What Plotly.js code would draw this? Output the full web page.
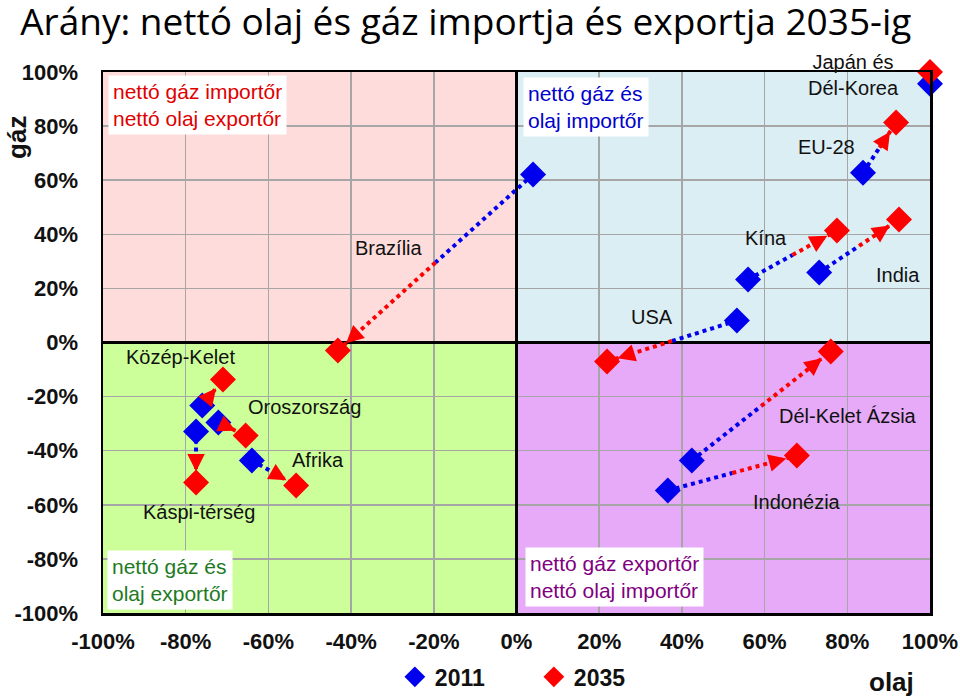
<!DOCTYPE html>
<html>
<head>
<meta charset="utf-8">
<script src="https://cdn.plot.ly/plotly-3.0.1.min.js"></script>
<style>
  html, body { margin: 0; padding: 0; background: #fff; }
  #chart { width: 960px; height: 698px; }
</style>
</head>
<body>
<div id="chart"></div>
<script>
// regions, oil (x) and gas (y) net trade ratio in %
var regions = ['Brazília', 'Japán és Dél-Korea', 'EU-28', 'Kína', 'India', 'USA',
               'Dél-Kelet Ázsia', 'Indonézia', 'Közép-Kelet', 'Káspi-térség', 'Oroszország', 'Afrika'];
var oil2011 = [4.0, 100, 83.8, 56.0, 73.2, 53.3, 42.4, 36.6, -76.0, -77.5, -72.1, -64.0];
var gas2011 = [62.1, 95.7, 62.8, 23.3, 25.9, 8.1, -43.6, -54.7, -23.3, -32.9, -29.6, -43.6];
var oil2035 = [-43.2, 100, 91.8, 77.5, 92.5, 21.9, 76.0, 67.8, -71.0, -77.5, -65.5, -53.3];
var gas2035 = [-3.0, 100, 81.3, 41.4, 45.5, -7.0, -3.3, -41.8, -13.7, -51.8, -34.4, -52.9];

// where the region names sit
var labelText = ['Brazília', 'Japán és<br>Dél-Korea', 'EU-28', 'Kína', 'India', 'USA',
                 'Dél-Kelet Ázsia', 'Indonézia', 'Közép-Kelet', 'Káspi-térség', 'Oroszország', 'Afrika'];
var labelX = [-30.8, 81.4, 74.9, 60.3, 92.2, 32.8, 80.2, 67.8, -81.2, -76.8, -51.3, -47.9];
var labelY = [34.8, 98.9, 72.1, 38.8, 25.1, 9.6, -27.0, -58.8, -5.2, -62.8, -24.0, -43.6];

var tickVals = [-100, -80, -60, -40, -20, 0, 20, 40, 60, 80, 100];
var tickText = ['-100%', '-80%', '-60%', '-40%', '-20%', '0%', '20%', '40%', '60%', '80%', '100%'];

var quadrantText = ['nettó gáz importőr<br>nettó olaj exportőr', 'nettó gáz és<br>olaj importőr',
                    'nettó gáz és<br>olaj exportőr', 'nettó gáz exportőr<br>nettó olaj importőr'];

var BLUE = '#0000ee', RED = '#ff0000';
var margin = {l: 103, r: 30, t: 72, b: 85, autoexpand: false};
var pxX = (960 - margin.l - margin.r) / 200;
var pxY = (698 - margin.t - margin.b) / 200;

// dotted connectors: blue first half, red second half
var blueX = [], blueY = [], redX = [], redY = [];
var arrows = [];
for (var i = 0; i < regions.length; i++) {
  var mx = (oil2011[i] + oil2035[i]) / 2, my = (gas2011[i] + gas2035[i]) / 2;
  blueX.push(oil2011[i], mx, null); blueY.push(gas2011[i], my, null);
  redX.push(mx, oil2035[i], null); redY.push(my, gas2035[i], null);
  var dx = (oil2035[i] - oil2011[i]) * pxX, dy = -(gas2035[i] - gas2011[i]) * pxY;
  var len = Math.sqrt(dx * dx + dy * dy);
  if (len < 20) continue;
  var L = 26;
  arrows.push({
    x: oil2035[i], y: gas2035[i], xref: 'x', yref: 'y', text: '',
    showarrow: true, arrowhead: 2, arrowsize: 1.4, arrowwidth: 2.5, arrowcolor: RED,
    ax: -dx / len * L, ay: -dy / len * L, standoff: 11
  });
}

var traces = [
  {x: blueX, y: blueY, mode: 'lines', line: {color: BLUE, width: 4, dash: 'dot'},
   showlegend: false, hoverinfo: 'skip', cliponaxis: false},
  {x: redX, y: redY, mode: 'lines', line: {color: RED, width: 4, dash: 'dot'},
   showlegend: false, hoverinfo: 'skip', cliponaxis: false},
  {x: oil2011, y: gas2011, text: regions, name: '2011', mode: 'markers', cliponaxis: false,
   marker: {symbol: 'diamond', size: 20, color: BLUE}},
  {x: oil2035, y: gas2035, text: regions, name: '2035', mode: 'markers', cliponaxis: false,
   marker: {symbol: 'diamond', size: 20, color: RED}}
];

var labelFont = {family: 'Liberation Sans, Arial, sans-serif', size: 20, color: '#111'};
var annotations = [];
for (var j = 0; j < labelText.length; j++) {
  annotations.push({x: labelX[j], y: labelY[j], xref: 'x', yref: 'y', text: labelText[j],
                    showarrow: false, font: labelFont});
}

var boxFont = 'Liberation Sans, Arial, sans-serif';
annotations.push(
  {x: -100, y: 100, xref: 'x', yref: 'y', xanchor: 'left', yanchor: 'top', xshift: 5, yshift: -3,
   text: quadrantText[0], align: 'left', showarrow: false, bgcolor: '#fff', borderpad: 4,
   font: {family: boxFont, size: 21, color: '#e00000'}},
  {x: 0, y: 100, xref: 'x', yref: 'y', xanchor: 'left', yanchor: 'top', xshift: 6, yshift: -5,
   text: quadrantText[1], align: 'left', showarrow: false, bgcolor: '#fff', borderpad: 4,
   font: {family: boxFont, size: 21, color: '#0000cc'}},
  {x: -100, y: -100, xref: 'x', yref: 'y', xanchor: 'left', yanchor: 'bottom', xshift: 4, yshift: 3,
   text: quadrantText[2], align: 'left', showarrow: false, bgcolor: '#fff', borderpad: 4,
   font: {family: boxFont, size: 21, color: '#1e7a1e'}},
  {x: 0, y: -100, xref: 'x', yref: 'y', xanchor: 'left', yanchor: 'bottom', xshift: 8, yshift: 6,
   text: quadrantText[3], align: 'left', showarrow: false, bgcolor: '#fff', borderpad: 4,
   font: {family: boxFont, size: 21, color: '#800080'}},
  // axis titles
  {x: -0.104, y: 0.88, xref: 'paper', yref: 'paper', xanchor: 'center', yanchor: 'middle',
   text: '<b>gáz</b>', textangle: -90,
   showarrow: false, font: {family: boxFont, size: 26, color: '#111'}},
  {x: 0.953, y: -0.128, xref: 'paper', yref: 'paper', xanchor: 'center', yanchor: 'middle',
   text: '<b>olaj</b>',
   showarrow: false, font: {family: boxFont, size: 26, color: '#111'}}
);
annotations = annotations.concat(arrows);

function quad(x0, x1, y0, y1, color) {
  return {type: 'rect', xref: 'x', yref: 'y', x0: x0, x1: x1, y0: y0, y1: y1,
          fillcolor: color, line: {width: 0}, layer: 'below'};
}

var tickFont = {family: 'Liberation Sans, Arial, sans-serif', size: 22, color: '#111', weight: 'bold'};

var layout = {
  width: 960, height: 698,
  margin: margin,
  paper_bgcolor: '#fff', plot_bgcolor: '#fff',
  title: {text: 'Arány: nettó olaj és gáz importja és exportja 2035-ig',
          x: 0.021, xanchor: 'left', y: 0.968, yanchor: 'middle', yref: 'container',
          font: {family: 'Open Sans, sans-serif', size: 37, color: '#000'}},
  xaxis: {range: [-100, 100], tickvals: tickVals, ticktext: tickText, tickfont: tickFont,
          showgrid: true, gridcolor: '#a6a6a6', gridwidth: 1.5,
          zeroline: true, zerolinecolor: '#000', zerolinewidth: 3.5,
          showline: true, mirror: true, linecolor: '#000', linewidth: 2.5,
          ticks: 'outside', ticklen: 7, tickcolor: 'rgba(0,0,0,0)', fixedrange: true},
  yaxis: {range: [-100, 100], tickvals: tickVals, ticktext: tickText, tickfont: tickFont,
          showgrid: true, gridcolor: '#a6a6a6', gridwidth: 1.5,
          zeroline: true, zerolinecolor: '#000', zerolinewidth: 3.5,
          showline: true, mirror: true, linecolor: '#000', linewidth: 2.5,
          ticks: 'outside', ticklen: 18, tickcolor: 'rgba(0,0,0,0)', fixedrange: true},
  shapes: [
    quad(-100, 0, 0, 100, '#ffdcdc'),
    quad(0, 100, 0, 100, '#dbeef4'),
    quad(-100, 0, -100, 0, '#ccff99'),
    quad(0, 100, -100, 0, '#e6aaf8')
  ],
  annotations: annotations,
  showlegend: true,
  legend: {orientation: 'h', x: 0.521, xanchor: 'center', y: -0.118, yanchor: 'middle',
           entrywidth: 94, entrywidthmode: 'pixels',
           font: {family: 'Liberation Sans, Arial, sans-serif', size: 23, color: '#111', weight: 'bold'}}
};

Plotly.newPlot('chart', traces, layout, {displayModeBar: false, staticPlot: true});
</script>
</body>
</html>
